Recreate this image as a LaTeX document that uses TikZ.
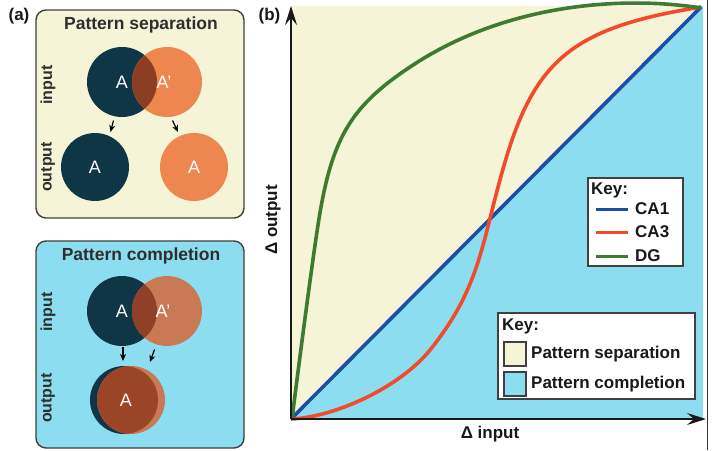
\documentclass[tikz,border=0pt]{standalone}
\usepackage{fontspec}
\setmainfont{Liberation Sans}
\usetikzlibrary{arrows.meta}
\definecolor{beige}{HTML}{F5F4D7}
\definecolor{cyanbg}{HTML}{8DDDF0}
\definecolor{navy}{HTML}{0F3647}
\definecolor{orng}{HTML}{EE8650}
\definecolor{ovl}{HTML}{8C3E23}
\definecolor{orngsoft}{HTML}{C97A55}
\definecolor{ovlsoft}{HTML}{8F4026}
\definecolor{brownout}{HTML}{9A4526}
\definecolor{ca1col}{HTML}{1D4EA6}
\definecolor{ca3col}{HTML}{F24B2A}
\definecolor{dgcol}{HTML}{3E7B2F}
\definecolor{border}{HTML}{404040}
\definecolor{txt}{HTML}{2E2E2E}
\begin{document}
\begin{tikzpicture}[x=1pt,y=-1pt,
  panelbox/.style={draw=border, line width=1.4pt, rounded corners=10pt, inner sep=0pt},
  titletxt/.style={font=\bfseries\fontsize{17.5}{20}\selectfont, text=txt},
  sidelab/.style={font=\bfseries\fontsize{16}{19}\selectfont, text=txt, rotate=90},
  disctxt/.style={font=\fontsize{18}{21}\selectfont, text=white, inner sep=0pt},
  disc/.style={circle, minimum size=70pt, inner sep=0pt},
  smallarrow/.style={-{Stealth[length=7pt,width=6pt]}, line width=1.2pt, black},
  curve/.style={line width=3.6pt},
  axisline/.style={line width=2pt, draw=black!90, -{Stealth[length=19pt,width=12pt,inset=7pt]}},
  keybox/.style={draw=border, fill=white, line width=1.2pt, inner sep=0pt},
  keytxt/.style={font=\bfseries\fontsize{17}{20}\selectfont, text=black!90, anchor=west, inner sep=0pt},
  swatch/.style={draw=border, line width=1.2pt, minimum width=22pt, minimum height=24pt, inner sep=0pt},
  paneltag/.style={font=\bfseries\fontsize{17}{20}\selectfont, text=black!90}
]
\useasboundingbox (0,0) rectangle (714,450);
\fill[white] (0,0) rectangle (714,450);

% ---------------- panel (a) ----------------
\node[paneltag] (taga) at (19,16) {(a)};

% pattern separation box
\node[panelbox, fill=beige, minimum width=208pt, minimum height=208pt] (sepbox) at (140,114) {};
\node[titletxt] (septitle) at (141,25) {Pattern separation};
\node[sidelab] (sepin) at (48,85) {input};
\node[sidelab] (sepout) at (48,167) {output};

\node[disc, fill=navy] (sinA) at (122,82) {};
\node[disc, fill=orng] (sinB) at (167,82) {};
\begin{scope}
  \clip (122,82) circle (35);
  \fill[ovl] (167,82) circle (35);
\end{scope}
\node[disctxt] (sinAt) at (122,82) {A};
\node[disctxt] (sinBt) at (164,82) {A’};

\node[disc, fill=navy, minimum size=68pt] (soutA) at (95,167) {};
\node[disc, fill=orng, minimum size=68pt] (soutB) at (194,167) {};
\node[disctxt] (soutAt) at (95,167) {A};
\node[disctxt] (soutBt) at (194,167) {A};

\coordinate (sa1s) at (113.5,120.5);
\coordinate (sa1e) at (110.5,132);
\coordinate (sa2s) at (172.5,120.5);
\coordinate (sa2e) at (178,132);
\draw[smallarrow] (sa1s) -- (sa1e);
\draw[smallarrow] (sa2s) -- (sa2e);

% pattern completion box
\node[panelbox, fill=cyanbg, minimum width=208pt, minimum height=207pt] (compbox) at (140,344.5) {};
\node[titletxt] (comptitle) at (141,256) {Pattern completion};
\node[sidelab] (compin) at (48,312) {input};
\node[sidelab] (compout) at (48,398) {output};

\node[disc, fill=navy] (cinA) at (122,311) {};
\node[disc, fill=orngsoft] (cinB) at (167,311) {};
\begin{scope}
  \clip (122,311) circle (35);
  \fill[ovlsoft] (167,311) circle (35);
\end{scope}
\node[disctxt] (cinAt) at (122,311) {A};
\node[disctxt] (cinBt) at (163,311) {A’};

\node[disc, fill=navy, minimum size=68pt] (coutA) at (124,400) {};
\node[disc, fill=orngsoft, minimum size=68pt] (coutB) at (131,400) {};
\begin{scope}
  \clip (124,400) circle (34);
  \fill[brownout] (131,400) circle (34);
\end{scope}
\node[disctxt] (coutAt) at (126,400) {A};

\coordinate (ca1s) at (123,347);
\coordinate (ca1e) at (123,361);
\coordinate (ca2s) at (154.5,349.5);
\coordinate (ca2e) at (150,362);
\draw[smallarrow] (ca1s) -- (ca1e);
\draw[smallarrow] (ca2s) -- (ca2e);

% ---------------- panel (b) ----------------
\node[paneltag] (tagb) at (269.5,16) {(b)};

\coordinate (O) at (291,419);
\coordinate (TR) at (701,7);
\fill[beige] (291,6) rectangle (703,419);
\fill[cyanbg] (O) -- (TR) -- (701,6) -- (703,6) -- (703,419) -- cycle;

% CA1
\draw[curve, ca1col] (O) -- (TR);
% CA3
\draw[curve, ca3col] (O)
  .. controls (336,417) and (400,387) .. (430,350)
  .. controls (481.5,286.1) and (481.5,241.9) .. (505,162)
  .. controls (535.5,58.3) and (574.7,27.3) .. (TR);
% DG
\draw[curve, dgcol] (292,419)
  .. controls (300,355) and (312,264) .. (318,225)
  .. controls (331.2,139.2) and (349.6,107.2) .. (410,67)
  .. controls (510,0) and (631,-3.2) .. (701,8);

% axes
\coordinate (xend) at (706,419);
\coordinate (yend) at (291,6);
\draw[axisline] (O) -- (xend);
\draw[axisline] (O) -- (yend);
\node[font=\bfseries\fontsize{17}{20}\selectfont, text=black!90] (xlab) at (490,434) {Δ input};
\node[font=\bfseries\fontsize{17}{20}\selectfont, text=black!90, rotate=90] (ylab) at (273,220) {Δ output};

% key 1
\node[keybox, minimum width=95pt, minimum height=88pt] (key1) at (635.5,222) {};
\node[keytxt] (k1t) at (591,190) {Key:};
\coordinate (l1a) at (596,209); \coordinate (l1b) at (628,209);
\coordinate (l2a) at (596,232); \coordinate (l2b) at (628,232);
\coordinate (l3a) at (596,256); \coordinate (l3b) at (628,256);
\draw[ca1col, line width=3pt] (l1a) -- (l1b);
\draw[ca3col, line width=3pt] (l2a) -- (l2b);
\draw[dgcol, line width=3pt] (l3a) -- (l3b);
\node[keytxt] (k1a) at (635,209) {CA1};
\node[keytxt] (k1b) at (635,232) {CA3};
\node[keytxt] (k1c) at (635,256) {DG};

% key 2
\node[keybox, minimum width=197pt, minimum height=86pt] (key2) at (596.5,356) {};
\node[keytxt] (k2t) at (502,326) {Key:};
\node[swatch, fill=beige] (sw1) at (515,354) {};
\node[swatch, fill=cyanbg] (sw2) at (515,384) {};
\node[keytxt] (k2a) at (531,354) {Pattern separation};
\node[keytxt] (k2b) at (531,384) {Pattern completion};

% right border line of the image
\draw[black!80, line width=1pt] (707.5,0) -- (707.5,450);
\end{tikzpicture}
\end{document}
